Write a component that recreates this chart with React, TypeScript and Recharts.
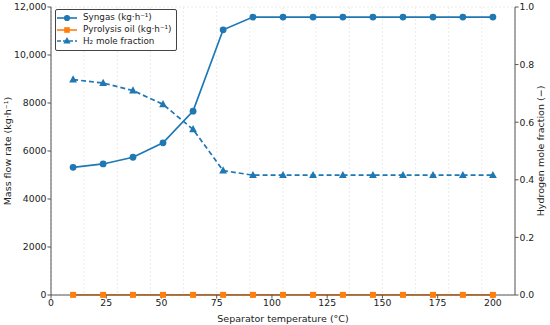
import React from "react";
import {
  ComposedChart,
  Line,
  XAxis,
  YAxis,
  CartesianGrid,
  Legend,
} from "recharts";

const temperatures = [
  10, 23.6, 37.1, 50.7, 64.3, 77.9, 91.4, 105, 118.6, 132.1, 145.7, 159.3,
  172.9, 186.4, 200,
];
const syngas = [
  5320, 5460, 5740, 6340, 7660, 11050, 11580, 11580, 11580, 11580, 11580,
  11580, 11580, 11580, 11580,
];
const pyrolysisOil = [5, 5, 5, 5, 5, 5, 5, 5, 5, 5, 5, 5, 5, 5, 5];
const h2Fraction = [
  0.748, 0.736, 0.71, 0.662, 0.575, 0.432, 0.416, 0.416, 0.416, 0.416, 0.416,
  0.416, 0.416, 0.416, 0.416,
];

const xTicks = [0, 25, 50, 75, 100, 125, 150, 175, 200];
const leftTicks = [0, 2000, 4000, 6000, 8000, 10000, 12000];
const rightTicks = [0, 0.2, 0.4, 0.6, 0.8, 1.0];

const data = temperatures.map((t, i) => ({
  t,
  syngas: syngas[i],
  oil: pyrolysisOil[i],
  h2: h2Fraction[i],
}));

const BLUE = "#1f77b4";
const ORANGE = "#ff7f0e";
const FONT = "'DejaVu Sans', sans-serif";
const AXIS = "#555";

const fmtLeft = (v: number) => (v >= 10000 ? v.toLocaleString("en-US") : String(v));

const Square = (props: any) => {
  const { cx, cy, index } = props;
  return <rect key={index} x={cx - 3} y={cy - 3} width={6} height={6} fill={ORANGE} />;
};

const Triangle = (props: any) => {
  const { cx, cy, index } = props;
  return (
    <path
      key={index}
      d={`M${cx},${cy - 4.3} L${cx + 3.9},${cy + 2.9} L${cx - 3.9},${cy + 2.9} Z`}
      fill={BLUE}
    />
  );
};

const LegendBox = () => {
  const rows = [
    { label: "Syngas (kg·h⁻¹)", color: BLUE, dash: undefined, marker: "circle" },
    { label: "Pyrolysis oil (kg·h⁻¹)", color: ORANGE, dash: undefined, marker: "square" },
    { label: "H₂ mole fraction", color: BLUE, dash: "4 2", marker: "triangle" },
  ];
  return (
    <div
      style={{
        border: "1px solid #444",
        background: "rgba(255,255,255,0.9)",
        borderRadius: 2,
        padding: "2px 4px 3px 1px",
        fontFamily: FONT,
        fontSize: 8.8,
        color: "#222",
        whiteSpace: "nowrap",
      }}
    >
      {rows.map((r) => (
        <div key={r.label} style={{ display: "flex", alignItems: "center", height: 11.7 }}>
          <svg width={20} height={10} style={{ marginRight: 6, flexShrink: 0 }}>
            <line x1={0} y1={5} x2={20} y2={5} stroke={r.color} strokeWidth={1.6} strokeDasharray={r.dash} />
            {r.marker === "circle" && <circle cx={10} cy={5} r={3.1} fill={r.color} />}
            {r.marker === "square" && <rect x={7.2} y={2.2} width={5.6} height={5.6} fill={r.color} />}
            {r.marker === "triangle" && <path d="M10,1 L13.6,7.6 L6.4,7.6 Z" fill={r.color} />}
          </svg>
          <span style={{ lineHeight: "11px" }}>{r.label}</span>
        </div>
      ))}
    </div>
  );
};

export default function App() {
  return (
    <div style={{ position: "absolute", left: 0, top: 0, width: 550, height: 325, background: "#fff" }}>
      <ComposedChart
        width={550}
        height={325}
        data={data}
        margin={{ top: 7, right: 0, bottom: 0, left: 0 }}
      >
        <CartesianGrid stroke="#ebebeb" strokeDasharray="2 2" horizontal vertical />
        <XAxis
          xAxisId="b"
          dataKey="t"
          type="number"
          domain={[0, 210]}
          ticks={xTicks}
          height={30}
          tick={{ fontSize: 9.3, fill: "#222", fontFamily: FONT }}
          tickSize={3.5}
          tickMargin={1}
          axisLine={{ stroke: AXIS }}
          tickLine={{ stroke: AXIS }}
          label={{
            value: "Separator temperature (°C)",
            position: "insideBottom",
            offset: 3,
            style: { fontSize: 9.5, fill: "#222", fontFamily: FONT },
          }}
        />
        <XAxis
          xAxisId="top"
          dataKey="t"
          type="number"
          domain={[0, 210]}
          orientation="top"
          height={0}
          tick={false}
          tickLine={false}
          axisLine={{ stroke: AXIS }}
        />
        <YAxis
          yAxisId="left"
          width={51}
          domain={[0, 12000]}
          ticks={leftTicks}
          tickFormatter={fmtLeft}
          tick={{ fontSize: 9.3, fill: "#222", fontFamily: FONT }}
          tickSize={3.5}
          tickMargin={1}
          axisLine={{ stroke: AXIS }}
          tickLine={{ stroke: AXIS }}
          label={{
            value: "Mass flow rate (kg·h⁻¹)",
            angle: -90,
            position: "insideLeft",
            offset: 8,
            style: { fontSize: 9.5, fill: "#222", fontFamily: FONT, textAnchor: "middle" },
          }}
        />
        <YAxis
          yAxisId="right"
          orientation="right"
          width={35}
          domain={[0, 1]}
          ticks={rightTicks}
          tickFormatter={(v: number) => v.toFixed(1)}
          tick={{ fontSize: 9.3, fill: "#222", fontFamily: FONT }}
          tickSize={3.5}
          tickMargin={1}
          axisLine={{ stroke: AXIS }}
          tickLine={{ stroke: AXIS }}
          label={{
            value: "Hydrogen mole fraction (−)",
            angle: -90,
            position: "insideRight",
            offset: 9,
            style: { fontSize: 9.5, fill: "#222", fontFamily: FONT, textAnchor: "middle" },
          }}
        />
        <Line
          xAxisId="b"
          yAxisId="left"
          dataKey="syngas"
          stroke={BLUE}
          strokeWidth={1.7}
          dot={{ r: 3.4, fill: BLUE, stroke: BLUE, strokeWidth: 0 }}
          isAnimationActive={false}
        />
        <Line
          xAxisId="b"
          yAxisId="left"
          dataKey="oil"
          stroke={ORANGE}
          strokeWidth={1.7}
          dot={Square}
          isAnimationActive={false}
        />
        <Line
          xAxisId="b"
          yAxisId="right"
          dataKey="h2"
          stroke={BLUE}
          strokeWidth={1.7}
          strokeDasharray="5 3"
          dot={Triangle}
          isAnimationActive={false}
        />
        <Legend
          layout="vertical"
          align="center"
          verticalAlign="middle"
          content={() => <LegendBox />}
          wrapperStyle={{ top: 9, left: 55, width: "auto" }}
        />
      </ComposedChart>
    </div>
  );
}
